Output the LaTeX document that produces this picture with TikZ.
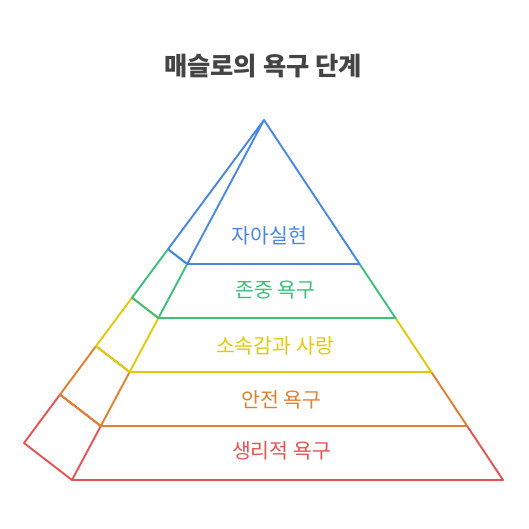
\documentclass[tikz,border=0pt]{standalone}
\usepackage{fontspec}
\usetikzlibrary{calc}
\newfontfamily\kr{Noto Sans CJK KR}
\definecolor{cblue}{HTML}{4A86E4}
\definecolor{cgreen}{HTML}{3CBF7A}
\definecolor{cyellow}{HTML}{E0C80A}
\definecolor{corange}{HTML}{E07F30}
\definecolor{cred}{HTML}{E65252}
\definecolor{ctitle}{HTML}{444444}
\tikzset{
  band/.style={line width=1.9pt, line join=round},
  lbl/.style={font=\kr\fontsize{20.5}{23}\selectfont, inner sep=0pt, anchor=center},
}
\begin{document}
\begin{tikzpicture}[x=1pt,y=-1pt]
\useasboundingbox (0,0) rectangle (528,529);
\node[font=\kr\bfseries\fontsize{25.3}{28}\selectfont, text=ctitle, inner sep=0pt] (title) at (263,66) {매슬로의 욕구 단계};
% apex, front-left bottom, right bottom, back-left bottom
\coordinate (A) at (264,120);
\coordinate (F) at (72,480);
\coordinate (R) at (503,480);
\coordinate (B) at (24,443);
\foreach \i/\t in {1/0.4,2/0.55,3/0.7,4/0.85,5/1.0}{
  \coordinate (f\i) at ($(A)!\t!(F)$);
  \coordinate (r\i) at ($(A)!\t!(R)$);
  \coordinate (b\i) at ($(A)!\t!(B)$);
}
% bands from bottom to top
\draw[band, cred] (f4) -- (f5) -- (r5) -- (r4) -- cycle (b4) -- (b5) -- (f5) (b4) -- (f4);
\draw[band, corange] (f3) -- (f4) -- (r4) -- (r3) -- cycle (b3) -- (b4) -- (f4) (b3) -- (f3);
\draw[band, cyellow] (f2) -- (f3) -- (r3) -- (r2) -- cycle (b2) -- (b3) -- (f3) (b2) -- (f2);
\draw[band, cgreen] (f1) -- (f2) -- (r2) -- (r1) -- cycle (b1) -- (b2) -- (f2) (b1) -- (f1);
\draw[band, cblue] (A) -- (f1) -- (r1) -- cycle (A) -- (b1) -- (f1);
\node[lbl, text=cblue] (l1) at (269.5,236) {자아실현};
\node[lbl, text=cgreen] (l2) at (275.5,290.5) {존중 욕구};
\node[lbl, text=cyellow] (l3) at (275,345.5) {소속감과 사랑};
\node[lbl, text=corange] (l4) at (281.5,399.5) {안전 욕구};
\node[lbl, text=cred] (l5) at (281.5,450.5) {생리적 욕구};
\end{tikzpicture}
\end{document}
